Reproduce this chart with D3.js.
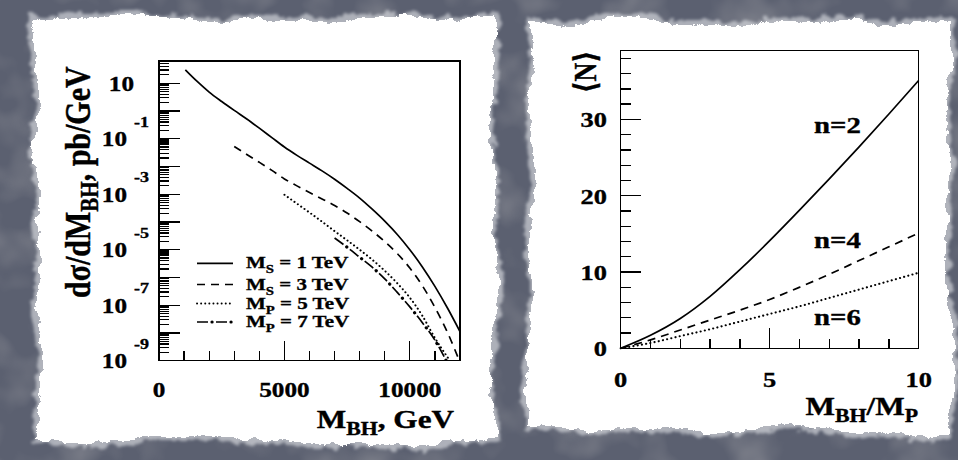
<!DOCTYPE html>
<html>
<head>
<meta charset="utf-8">
<script src="https://cdn.jsdelivr.net/npm/d3@7"></script>
<style>
  html, body { margin: 0; padding: 0; background: #5a5f6d; }
  svg { display: block; }
  text { font-family: "Liberation Serif", "DejaVu Serif", serif; font-weight: bold; fill: #000; stroke: #000; stroke-width: 0.35px; }
</style>
</head>
<body>
<svg id="chart" width="958" height="460"></svg>
<script>
// ---- left panel: dsigma/dM_BH (log10 of pb/GeV) vs M_BH (GeV)
var massS1 = [1050,1500,2000,2500,3000,3500,4000,4500,5000,5500,6000,6500,7000,7500,8000,8500,9000,9500,10000,10500,11000,11500,12000];
var logS1  = [1.48,1.08,0.68,0.34,0.02,-0.29,-0.62,-0.96,-1.30,-1.60,-1.88,-2.16,-2.46,-2.79,-3.14,-3.54,-3.97,-4.45,-5.00,-5.62,-6.32,-7.10,-7.95];
var massS3 = [3000,3500,4000,4500,5000,5500,6000,6500,7000,7500,8000,8500,9000,9500,10000,10500,11000,11500,11950];
var logS3  = [-1.28,-1.57,-1.85,-2.14,-2.45,-2.70,-2.94,-3.17,-3.41,-3.68,-3.99,-4.33,-4.71,-5.14,-5.66,-6.30,-7.08,-7.98,-8.95];
var massP5 = [5000,5500,6000,6500,7000,7500,8000,8500,9000,9500,10000,10500,11000,11600];
var logP5  = [-3.02,-3.34,-3.66,-3.99,-4.33,-4.66,-5.00,-5.36,-5.76,-6.21,-6.73,-7.38,-8.18,-9.0];
var massP7 = [7000,7500,8000,8500,9000,9500,10000,10500,11000,11450];
var logP7  = [-4.58,-4.91,-5.27,-5.63,-6.05,-6.54,-7.06,-7.63,-8.26,-9.0];
var legendSub = ["S","S","P","P"];
var legendTeV = ["1","3","5","7"];
var leftXLabels = [0, 5000, 10000];
var leftYExps = [1, -1, -3, -5, -7, -9];

// ---- right panel: <N> vs M_BH/M_P
var ratio = [0,1,2,3,4,5,6,7,8,9,10];
var nTwo  = [0,1.7,3.9,6.8,10.3,14.1,18.1,22.2,26.4,30.7,35.1];
var nFour = [0,1.1,2.4,3.7,5.0,6.4,8.0,9.7,11.5,13.3,15.1];
var nSix  = [0,0.7,1.6,2.5,3.5,4.5,5.5,6.6,7.7,8.8,9.9];
var curveNames = ["n=2","n=4","n=6"];
var rightXLabels = [0, 5, 10];
var rightYLabels = [0, 10, 20, 30];

var S = 1.2; // glyphs in the picture are a bit wide
var svg = d3.select("#chart");
var defs = svg.append("defs");

// grungy backdrop and torn paper
defs.append("filter").attr("id","grunge").attr("x",0).attr("y",0).attr("width","100%").attr("height","100%")
  .html('<feTurbulence type="fractalNoise" baseFrequency="0.018" numOctaves="3" seed="5" result="n"/>' +
        '<feColorMatrix in="n" type="matrix" values="0 0 0 0 0.2  0 0 0 0 0.21  0 0 0 0 0.25  -2.2 0 0 0 1.2"/>');
defs.append("filter").attr("id","torn").attr("x","-10%").attr("y","-10%").attr("width","120%").attr("height","120%")
  .html('<feTurbulence type="fractalNoise" baseFrequency="0.012" numOctaves="2" seed="4" result="w"/>' +
        '<feDisplacementMap in="SourceGraphic" in2="w" scale="22" xChannelSelector="R" yChannelSelector="G" result="d0"/>' +
        '<feTurbulence type="fractalNoise" baseFrequency="0.08" numOctaves="4" seed="11" result="t"/>' +
        '<feDisplacementMap in="d0" in2="t" scale="9" xChannelSelector="R" yChannelSelector="G" result="d"/>' +
        '<feGaussianBlur in="d" stdDeviation="0.7"/>');
defs.append("filter").attr("id","halo").attr("x","-10%").attr("y","-10%").attr("width","120%").attr("height","120%")
  .html('<feTurbulence type="fractalNoise" baseFrequency="0.012" numOctaves="2" seed="4" result="w"/>' +
        '<feDisplacementMap in="SourceGraphic" in2="w" scale="22" xChannelSelector="R" yChannelSelector="G" result="d0"/>' +
        '<feTurbulence type="fractalNoise" baseFrequency="0.1" numOctaves="4" seed="3" result="t"/>' +
        '<feDisplacementMap in="d0" in2="t" scale="12" xChannelSelector="R" yChannelSelector="G" result="d"/>' +
        '<feGaussianBlur in="d" stdDeviation="1.4"/>');

svg.append("rect").attr("width",958).attr("height",460).attr("fill","#5b6070");
svg.append("rect").attr("width",958).attr("height",460).attr("filter","url(#grunge)");

var papers = [[34,17,462,425],[530,20,422,412]];
papers.forEach(function(p){
  svg.append("rect").attr("x",p[0]-2).attr("y",p[1]-2).attr("width",p[2]+4).attr("height",p[3]+4)
    .attr("fill","#e4e6ea").attr("opacity",0.6).attr("filter","url(#halo)");
  svg.append("rect").attr("x",p[0]+2).attr("y",p[1]+2).attr("width",p[2]-4).attr("height",p[3]-4)
    .attr("fill","#ffffff").attr("filter","url(#torn)");
  svg.append("rect").attr("x",p[0]+16).attr("y",p[1]+16).attr("width",p[2]-32).attr("height",p[3]-32)
    .attr("fill","#ffffff");
});

// text helper: parts = [[string, dy, sizeFactor], ...]
function label(x, y, parts, size, anchor, rot) {
  var t = svg.append("text")
    .attr("transform", "translate(" + x + "," + y + ") scale(" + S + ",1)" + (rot ? " rotate(" + rot + ")" : ""))
    .attr("text-anchor", anchor || "start")
    .style("font-size", size + "px");
  parts.forEach(function(p){
    t.append("tspan").attr("dy", p[1] || 0).style("font-size", (size * (p[2] || 1)) + "px").text(p[0]);
  });
  return t;
}

// ================= left panel =================
var xL = d3.scaleLinear().domain([0, 12000]).range([159, 460]);
var yL = d3.scaleLog().domain([1e-9, Math.pow(10, 1.8)]).range([360.7, 61]);

defs.append("clipPath").attr("id","clipL").append("rect")
  .attr("x",159).attr("y",61).attr("width",301).attr("height",299.7);

var gL = svg.append("g").attr("shape-rendering","crispEdges");
d3.range(0, 12001, 1000).forEach(function(v){
  var len = v % 5000 === 0 ? 20 : 10;
  gL.append("line").attr("x1",xL(v)).attr("x2",xL(v)).attr("y1",360.7).attr("y2",360.7-len)
    .attr("stroke","#000").attr("stroke-width",1.3);
});
yL.ticks(40).forEach(function(v){
  var lg = Math.log10(v);
  var major = Math.abs(lg - Math.round(lg)) < 1e-6;
  gL.append("line").attr("x1",159).attr("x2",159 + (major ? 21 : 10)).attr("y1",yL(v)).attr("y2",yL(v))
    .attr("stroke","#000").attr("stroke-width",1.2);
});
gL.append("rect").attr("x",159).attr("y",61).attr("width",301).attr("height",299.7)
  .attr("fill","none").attr("stroke","#000").attr("stroke-width",1.4);

leftXLabels.forEach(function(v){ label(xL(v), 397, [[String(v)]], 21, "middle"); });
leftYExps.forEach(function(e){
  var ty = yL(Math.pow(10, e));
  if (e === 1) {
    label(134, ty + 7.5, [["10"]], 21, "end");
  } else {
    label(127, ty + 7.5, [["10"]], 21, "end");
    label(134, ty - 12, [[String(e)]], 15, "start");
  }
});

var lineL = d3.line().curve(d3.curveMonotoneX)
  .x(function(d){ return xL(d[0]); })
  .y(function(d){ return yL(Math.pow(10, d[1])); });
var seriesL = [
  {m: massS1, v: logS1, dash: null},
  {m: massS3, v: logS3, dash: "8,6"},
  {m: massP5, v: logP5, dash: "0.1,4"},
  {m: massP7, v: logP7, dash: "11,8", dots: true}
];
var cg = svg.append("g").attr("clip-path","url(#clipL)");
seriesL.forEach(function(s){
  var pts = d3.zip(s.m, s.v);
  cg.append("path").attr("d", lineL(pts)).attr("fill","none").attr("stroke","#000")
    .attr("stroke-width", s.dash === "0.1,4" ? 2 : 1.7)
    .attr("stroke-linecap", s.dash === "0.1,4" ? "round" : "butt")
    .attr("stroke-dasharray", s.dash);
  if (s.dots) {
    cg.append("path").attr("d", lineL(pts)).attr("fill","none").attr("stroke","#000")
      .attr("stroke-width",3.2).attr("stroke-linecap","round")
      .attr("stroke-dasharray","0.1,18.9").attr("stroke-dashoffset",4);
  }
});

// legend
var legY = [263.3, 284.5, 303.5, 322];
seriesL.forEach(function(s, i){
  svg.append("line").attr("x1",197).attr("x2",233).attr("y1",legY[i]).attr("y2",legY[i])
    .attr("stroke","#000").attr("stroke-width", s.dash === "0.1,4" ? 1.9 : 1.7)
    .attr("stroke-linecap", s.dash === "0.1,4" ? "round" : "butt")
    .attr("stroke-dasharray", s.dash);
  if (s.dots) {
    svg.append("line").attr("x1",197).attr("x2",233).attr("y1",legY[i]).attr("y2",legY[i])
      .attr("stroke","#000").attr("stroke-width",3.2).attr("stroke-linecap","round")
      .attr("stroke-dasharray","0.1,18.9").attr("stroke-dashoffset",4);
  }
  label(246, legY[i] + 5, [["M"], [legendSub[i], 5, 0.7], [" = " + legendTeV[i] + " TeV", -5, 1]], 17.5, "start");
});

label(454, 428, [["M"], ["BH", 7, 0.7], [", GeV", -7, 1]], 26, "end");
label(90, 298, [["d\u03c3/dM"], ["BH", 7, 0.7], [", pb/GeV", -7, 1]], 30, "start", -90);

// ================= right panel =================
var xR = d3.scaleLinear().domain([0, 10]).range([620.7, 918.7]);
var yR = d3.scaleLinear().domain([0, 39]).range([348.3, 50.7]);

var gR = svg.append("g").attr("shape-rendering","crispEdges");
d3.range(0, 11, 1).forEach(function(v){
  var len = v % 5 === 0 ? 20 : 9;
  gR.append("line").attr("x1",xR(v)).attr("x2",xR(v)).attr("y1",348.3).attr("y2",348.3-len)
    .attr("stroke","#000").attr("stroke-width",1.3);
});
d3.range(0, 39, 2).forEach(function(v){
  var len = v % 10 === 0 ? 20.7 : 10;
  gR.append("line").attr("x1",620.7).attr("x2",620.7+len).attr("y1",yR(v)).attr("y2",yR(v))
    .attr("stroke","#000").attr("stroke-width",1.3);
});
gR.append("rect").attr("x",620.7).attr("y",50.7).attr("width",298).attr("height",297.6)
  .attr("fill","none").attr("stroke","#000").attr("stroke-width",1.4);

rightXLabels.forEach(function(v){ label(xR(v), 387, [[String(v)]], 22, "middle"); });
rightYLabels.forEach(function(v){ label(607, yR(v) + 8, [[String(v)]], 22, "end"); });

var lineR = d3.line().curve(d3.curveMonotoneX)
  .x(function(d){ return xR(d[0]); })
  .y(function(d){ return yR(d[1]); });
[[nTwo, null], [nFour, "8,6"], [nSix, "0.1,4.2"]].forEach(function(c){
  svg.append("path").attr("d", lineR(d3.zip(ratio, c[0]))).attr("fill","none").attr("stroke","#000")
    .attr("stroke-width", c[1] === "0.1,4.2" ? 2.1 : 1.7)
    .attr("stroke-linecap", c[1] === "0.1,4.2" ? "round" : "butt")
    .attr("stroke-dasharray", c[1]);
});
var nameY = [133, 248, 325];
curveNames.forEach(function(n, i){ label(814, nameY[i], [[n]], 24, "start"); });

label(918, 415, [["M"], ["BH", 7, 0.7], ["/M", -7, 1], ["P", 7, 0.7]], 26, "end");
label(596, 72, [["\u27e8N\u27e9"]], 26, "middle", -90);
</script>
</body>
</html>
